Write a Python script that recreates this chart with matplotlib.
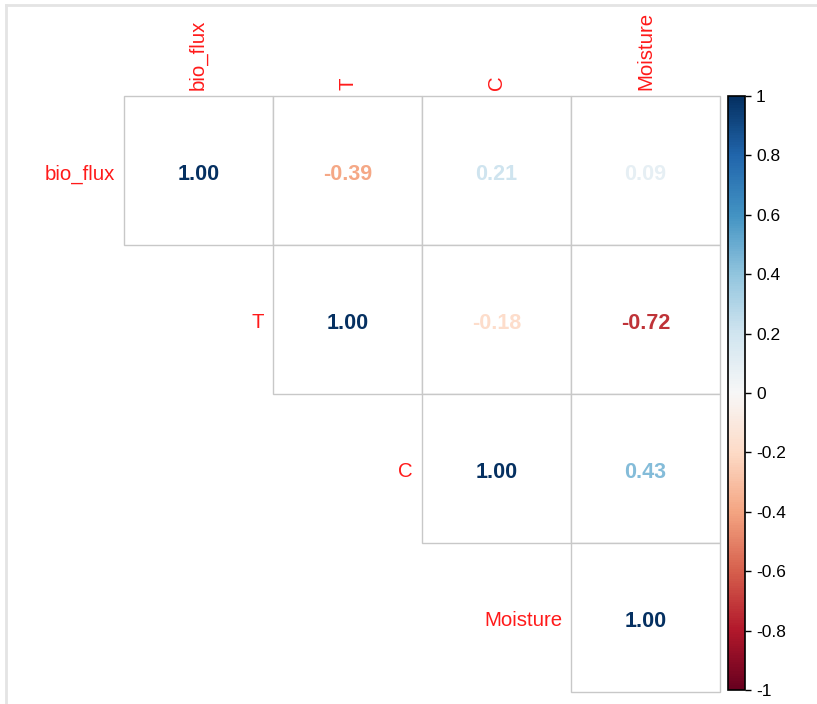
import numpy as np
import matplotlib
matplotlib.use("Agg")
import matplotlib.pyplot as plt
from matplotlib.patches import Rectangle
from matplotlib.lines import Line2D
import matplotlib.colors as mcolors
import matplotlib.cm as cm

plt.rcParams['font.family'] = ['Liberation Sans', 'DejaVu Sans']

variables = ['bio_flux', 'T', 'C', 'Moisture']
# correlation matrix, only the upper triangle is drawn
corr = np.array([
    [1.00, -0.39, 0.21, 0.09],
    [-0.39, 1.00, -0.18, -0.72],
    [0.21, -0.18, 1.00, 0.43],
    [0.09, -0.72, 0.43, 1.00],
])
cbar_ticks = [-1, -0.8, -0.6, -0.4, -0.2, 0, 0.2, 0.4, 0.6, 0.8, 1]
cbar_labels = ['-1', '-0.8', '-0.6', '-0.4', '-0.2', '0', '0.2', '0.4', '0.6', '0.8', '1']

W, H = 817, 704
fig = plt.figure(figsize=(W / 100, H / 100), dpi=100)

cmap = plt.get_cmap('RdBu')
norm = mcolors.Normalize(vmin=-1, vmax=1)
n = len(variables)

# main grid axes
ax = fig.add_axes([124 / W, (H - 692) / H, 596 / W, 596 / H])
ax.set_xlim(0, n)
ax.set_ylim(n, 0)
ax.axis('off')

for i in range(n):
    for j in range(i, n):
        ax.add_patch(Rectangle((j, i), 1, 1, facecolor='white',
                               edgecolor='#c8c8c8', lw=1.0, clip_on=False))
        ax.text(j + 0.5, i + 0.51, f"{corr[i, j]:.2f}", ha='center',
                va='center_baseline', fontsize=15.5, fontweight='bold',
                color=cmap(norm(corr[i, j])))
    # row label
    ax.text(i - 0.06, i + 0.51, variables[i], ha='right', va='center_baseline',
            fontsize=14.7, color='#ff1a1a')
    # column label
    ax.text(i + 0.5, -0.04, variables[i], ha='center', va='bottom',
            rotation=90, fontsize=14.7, color='#ff1a1a')

# colorbar
cax = fig.add_axes([728 / W, (H - 690) / H, 17 / W, 594 / H])
sm = cm.ScalarMappable(norm=norm, cmap=cmap)
cb = fig.colorbar(sm, cax=cax, ticks=cbar_ticks)
cb.ax.set_yticklabels(cbar_labels)
cb.ax.tick_params(labelsize=12.5, length=4, width=1, pad=4, colors='black')
cb.outline.set_linewidth(1.2)
cb.outline.set_edgecolor('black')

# light frame around the plot area
fig.add_artist(Line2D([6 / W, 6 / W], [0, (H - 5) / H], color='#e4e4e4', lw=2))
fig.add_artist(Line2D([6 / W, 1], [(H - 5) / H, (H - 5) / H], color='#e4e4e4', lw=2))

fig.savefig('out.png', dpi=100, facecolor='white')
